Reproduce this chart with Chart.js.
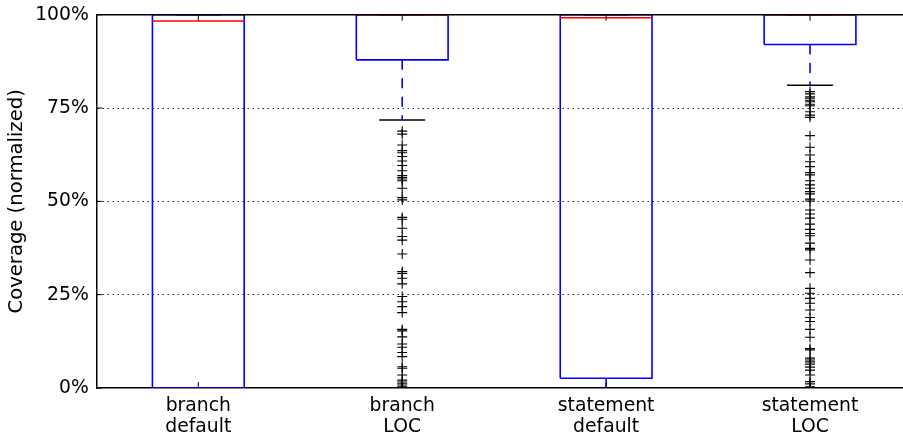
<!DOCTYPE html>
<html>
<head>
<meta charset="utf-8">
<script src="https://cdn.jsdelivr.net/npm/chart.js@4"></script>
<style>
html,body{margin:0;padding:0;background:#fff;}
#wrap{width:903px;height:437px;position:relative;}
</style>
</head>
<body>
<div id="wrap"><canvas id="c" width="903" height="437"></canvas></div>
<script>
// ---- data ----
const categories = [['branch','default'],['branch','LOC'],['statement','default'],['statement','LOC']];
const q1 = [0, 87.9, 2.6, 92.0];
const medians = [98.3, 100, 99.2, 100];
const q3 = [100, 100, 100, 100];
const whiskerLow = [0, 71.8, 0, 81.1];
const whiskerHigh = [100, 100, 100, 100];
const outliersBranchDefault = [];
const outliersBranchLOC = [68.8, 68.0, 65.1, 63.6, 63.0, 62.0, 60.8, 59.6, 58.2, 56.9, 56.4, 56.0, 55.5, 53.5, 51.0, 50.4, 45.7, 45.2, 42.8, 40.6, 39.6, 35.9, 31.2, 30.7, 29.4, 27.9, 24.5, 23.1, 21.8, 20.2, 15.7, 15.3, 13.7, 11.8, 10.9, 9.5, 8.4, 5.7, 5.3, 3.5, 2.1, 1.6, 1.1, 0.5, 0.1];
const outliersStatementDefault = [];
const outliersStatementLOC = [79.4, 78.8, 78.0, 77.6, 77.1, 76.7, 76.0, 75.6, 74.0, 73.1, 72.5, 67.6, 64.5, 62.4, 60.6, 59.3, 57.7, 57.1, 55.5, 54.4, 53.5, 52.6, 52.0, 50.6, 50.1, 47.7, 46.6, 45.5, 43.9, 42.5, 41.4, 40.8, 38.8, 37.4, 37.0, 34.3, 30.9, 26.7, 25.4, 24.0, 22.7, 20.9, 18.9, 17.8, 15.7, 13.6, 10.6, 10.2, 8.0, 7.5, 7.0, 6.4, 5.6, 4.8, 3.5, 1.7, 1.1, 0.3];
const outliers = [outliersBranchDefault, outliersBranchLOC, outliersStatementDefault, outliersStatementLOC];
const yTicks = [0, 25, 50, 75, 100];

// ---- style ----
const BOX_W = 0.45, CAP_W = 0.225;
const FONT = 'DejaVu Sans';
const FS = 18.8;
const LW = 1.6;

const datasets = [];
categories.forEach((c, i) => {
  const x = i + 1;
  datasets.push({data:[{x:x,y:q1[i]},{x:x,y:whiskerLow[i]}], borderColor:'#0000ff', borderWidth:LW, borderDash:[10,8.5], showLine:true, pointRadius:0, order:5});
  datasets.push({data:[{x:x,y:q3[i]},{x:x,y:whiskerHigh[i]}], borderColor:'#0000ff', borderWidth:LW, borderDash:[10,8.5], showLine:true, pointRadius:0, order:5});
  datasets.push({data:[{x:x-CAP_W/2,y:whiskerLow[i]},{x:x+CAP_W/2,y:whiskerLow[i]}], borderColor:'#000', borderWidth:LW, showLine:true, pointRadius:0, order:4});
  datasets.push({data:[{x:x-CAP_W/2,y:whiskerHigh[i]},{x:x+CAP_W/2,y:whiskerHigh[i]}], borderColor:'#000', borderWidth:LW, showLine:true, pointRadius:0, order:4});
  datasets.push({data:[{x:x-BOX_W/2,y:q1[i]},{x:x+BOX_W/2,y:q1[i]},{x:x+BOX_W/2,y:q3[i]},{x:x-BOX_W/2,y:q3[i]},{x:x-BOX_W/2,y:q1[i]}], borderColor:'#0000ff', borderWidth:LW, showLine:true, pointRadius:0, order:3});
  datasets.push({data:[{x:x-BOX_W/2,y:medians[i]},{x:x+BOX_W/2,y:medians[i]}], borderColor:'#ff0000', borderWidth:LW, showLine:true, pointRadius:0, order:2});
  datasets.push({data: outliers[i].map(v => ({x:x, y:v})), showLine:false, pointStyle:'cross', pointRadius:5, pointBorderWidth:1.1, borderColor:'#000', backgroundColor:'#000', pointBorderColor:'#000', clip:0, order:1});
});

const axesExtras = {
  id:'axesExtras',
  afterDraw(chart){
    const {ctx, chartArea:a, scales:{x, y}} = chart;
    ctx.save();
    ctx.strokeStyle = '#000';
    ctx.lineWidth = 1.5;
    ctx.beginPath();
    ctx.moveTo(a.left, a.top);
    ctx.lineTo(a.right + 2, a.top);
    ctx.stroke();
    ctx.lineWidth = 1;
    ctx.beginPath();
    categories.forEach((c, i) => {
      const px = x.getPixelForValue(i + 1);
      ctx.moveTo(px, a.top); ctx.lineTo(px, a.top + 6);
      ctx.moveTo(px, a.bottom); ctx.lineTo(px, a.bottom - 6);
    });
    yTicks.forEach(v => {
      const py = y.getPixelForValue(v);
      ctx.moveTo(a.left, py); ctx.lineTo(a.left + 6, py);
    });
    ctx.stroke();
    ctx.restore();
  }
};

new Chart(document.getElementById('c'), {
  type:'scatter',
  data:{datasets},
  plugins:[axesExtras],
  options:{
    responsive:false,
    animation:false,
    events:[],
    layout:{autoPadding:false, padding:{left:0, right:0, top:14.7, bottom:0}},
    plugins:{legend:{display:false}, tooltip:{enabled:false}},
    scales:{
      x:{
        type:'linear', min:0.5, max:4.456,
        grid:{display:false},
        border:{display:true, color:'#000', width:1.5},
        afterBuildTicks(s){ s.ticks = categories.map((c,i)=>({value:i+1})); },
        afterFit(s){ s.height = 49; s.paddingLeft = 0; s.paddingRight = 0; },
        ticks:{
          autoSkip:false, maxRotation:0, padding:0,
          color:'#000',
          font:{family:FONT, size:FS, lineHeight:1.09},
          callback:(v)=> categories[v-1] || ''
        }
      },
      y:{
        type:'linear', min:0, max:100,
        afterBuildTicks(s){ s.ticks = yTicks.map(v=>({value:v})); },
        afterFit(s){ s.width = 96.35; s.paddingTop = 0; s.paddingBottom = 0; },
        grid:{display:true, drawTicks:false, lineWidth:1,
          color:(ctx)=> (ctx.tick && (ctx.tick.value===0 || ctx.tick.value===100)) ? 'rgba(0,0,0,0)' : 'rgba(0,0,0,0.85)'},
        border:{display:true, color:'#000', width:1.5, dash:[1.5,3.5]},
        ticks:{
          padding:7.5, color:'#000',
          font:{family:FONT, size:FS},
          callback:(v)=> v + '%'
        },
        title:{display:true, text:'Coverage (normalized)', color:'#000',
          font:{family:FONT, size:19.6}, padding:{top:5.5, bottom:0}}
      }
    }
  }
});
</script>
</body>
</html>
